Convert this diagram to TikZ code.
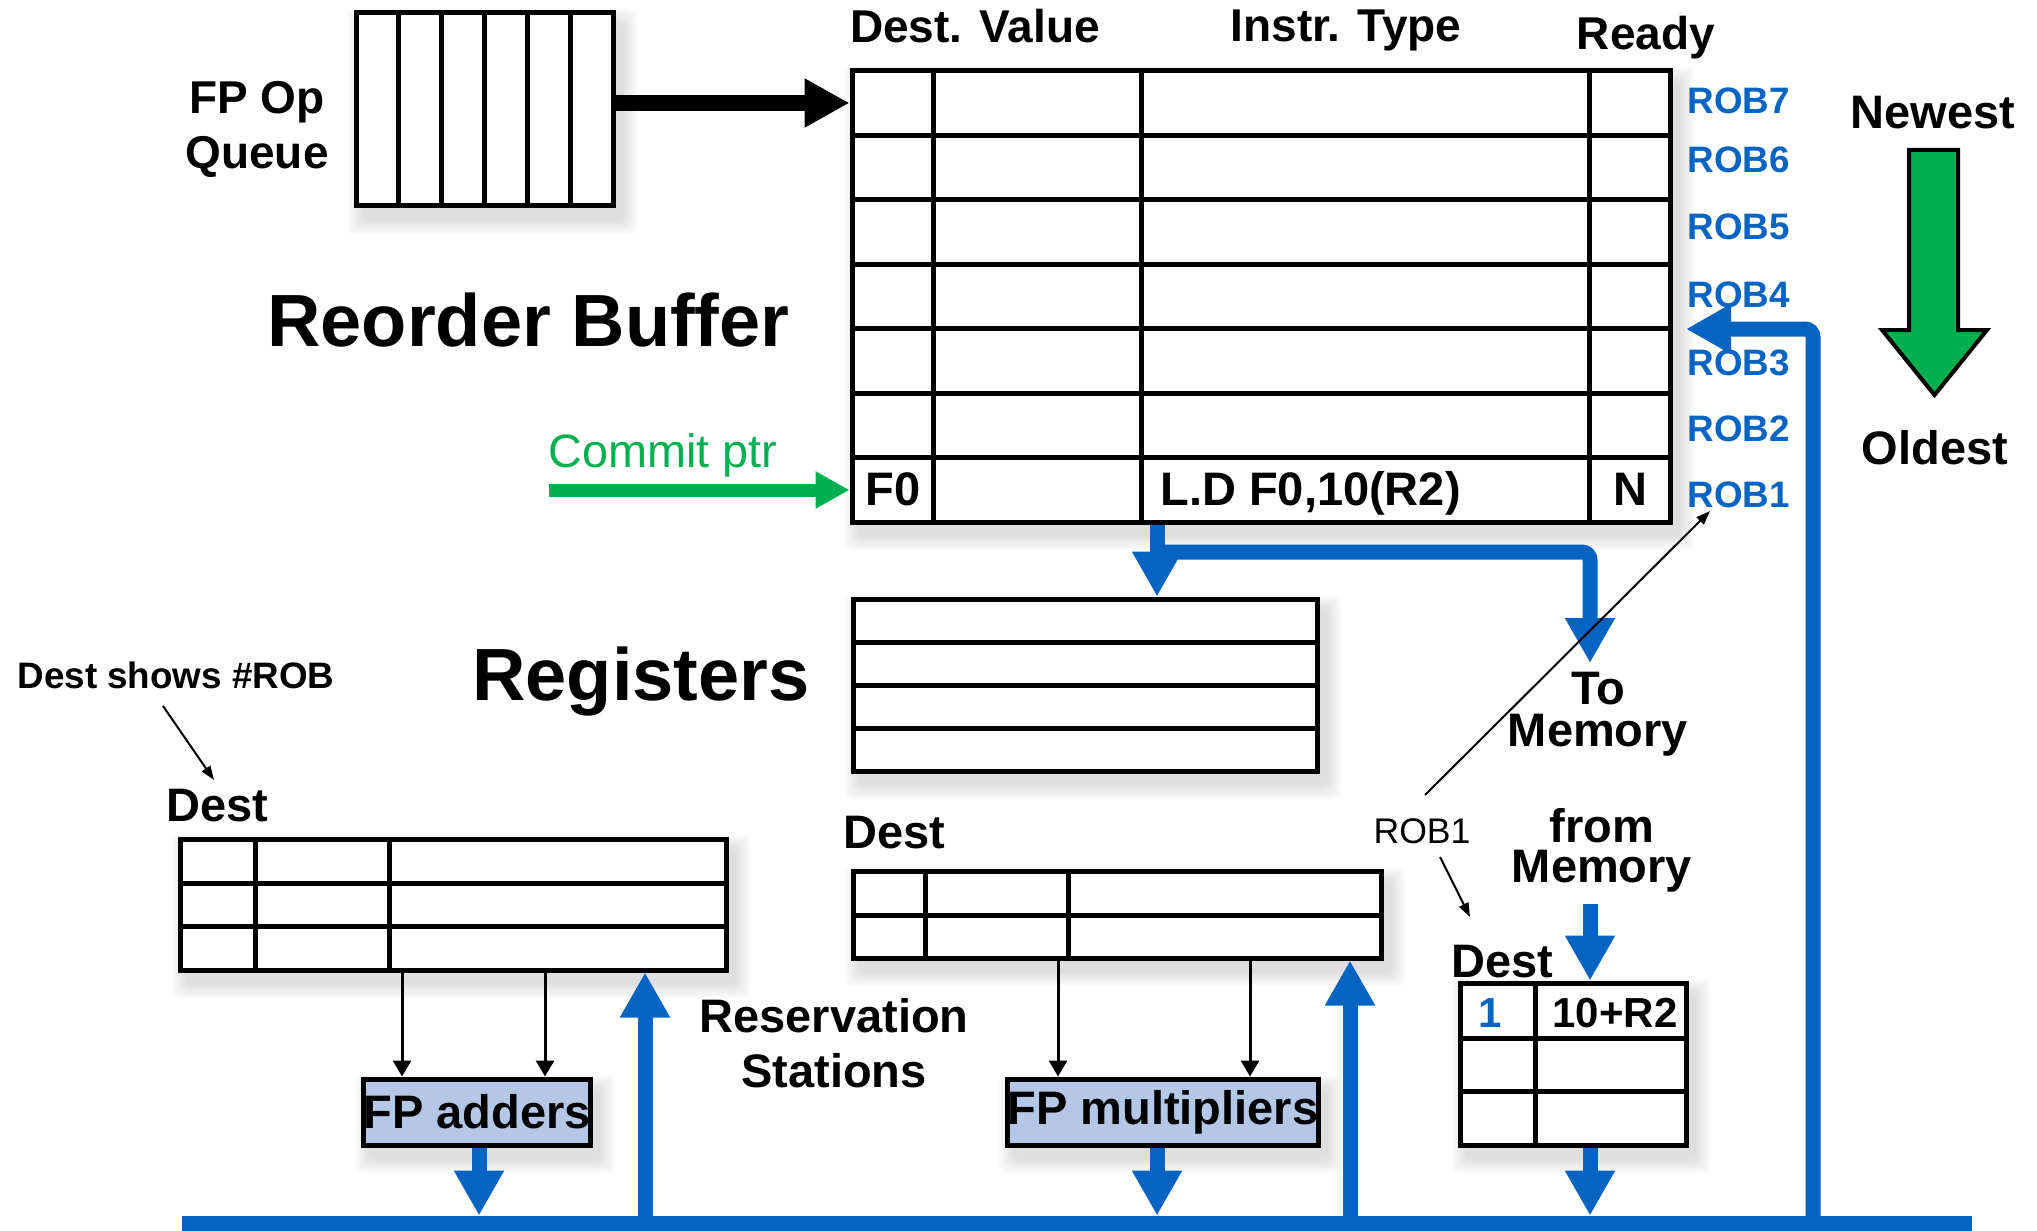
\documentclass[tikz,border=0pt]{standalone}
\usepackage{fontspec}
\setmainfont{Liberation Sans}
\usetikzlibrary{arrows.meta,calc}
\definecolor{myblue}{HTML}{0563C1}
\definecolor{mygreen}{HTML}{00B050}
\definecolor{fublue}{HTML}{B4C7E7}
\pgfdeclarelayer{bg}
\pgfsetlayers{bg,main}
\newcommand\softshadow[1]{%
  \begin{pgfonlayer}{bg}
  \foreach \k in {0,...,7}{%
    \fill[black, opacity=0.016, rounded corners=3pt]
      ($(#1.north west)+({8-2*\k},{12-2*\k})$) rectangle ($(#1.south east)+({8+2*\k},{12+2*\k})$);
  }
  \end{pgfonlayer}}
\tikzset{
  box/.style={draw, line width=2.5pt, fill=white, inner sep=0pt},
  fu/.style={draw, line width=2.5pt, fill=fublue, inner sep=0pt, font=\bfseries\fontsize{23.5}{24}\selectfont},
  grid/.style={line width=2.5pt},
  lbl/.style={font=\bfseries\fontsize{23}{24}\selectfont, inner sep=0pt, anchor=base},
  lblb/.style={font=\bfseries\fontsize{23.5}{24}\selectfont, inner sep=0pt, anchor=base},
  twoline/.style={inner sep=0pt, anchor=north, align=center},
  bigt/.style={font=\bfseries\fontsize{37}{38}\selectfont, inner sep=0pt, anchor=base},
  robl/.style={font=\bfseries\fontsize{18.4}{19}\selectfont, text=myblue, inner sep=0pt, anchor=base west},
  blueline/.style={draw=myblue, line width=7.5pt},
  bluetip/.style={-{Triangle[length=22.5pt,width=23.5pt]}},
  thinarr/.style={line width=1.5pt, -{Triangle[length=8pt,width=9pt]}},
  ann/.style={line width=1pt, -{Triangle[length=7pt,width=5pt]}},
}
\begin{document}
\begin{tikzpicture}[x=0.5pt,y=-0.5pt]
\begin{pgfonlayer}{bg}
\fill[white] (0,0) rectangle (2037,1230);
\end{pgfonlayer}
\useasboundingbox (0,0) rectangle (2037,1230);

% ---------- FP Op Queue ----------
\node[box, minimum width=128.5pt, minimum height=96.5pt] (queue) at (484.5,109.5) {};
\foreach \i in {1,...,5} \draw[grid] ({356+42.8*\i},13) -- ({356+42.8*\i},206);
\softshadow{queue}
\node[lbl] (fpop) at (257,114) {FP Op};
\node[lbl] (fpq) at (257,169) {Queue};

% ---------- Reorder buffer ----------
\node[box, minimum width=409pt, minimum height=225.5pt] (rob) at (1261,296.5) {};
\foreach \y in {135.4,199.9,264.3,328.7,393.1,457.6} \draw[grid] (852,\y) -- (1670,\y);
\foreach \x in {933,1141,1589} \draw[grid] (\x,71) -- (\x,522);
\softshadow{rob}
\coordinate (rob7) at (1261,103);
\coordinate (rob1) at (1261,490);
\node[lbl] (hdv) at (975,43) {Dest. Value};
\node[lbl] (hit) at (1346,42) {Instr. Type};
\node[lbl] (hrd) at (1646,50) {Ready};
\node[lblb] (cf0) at (893,505) {F0};
\node[lblb, anchor=base west] (cld) at (1160,505) {L.D F0,10(R2)};
\node[lblb] (cn) at (1630,505) {N};
\node[robl] (r7) at (1687,114) {ROB7};
\node[robl] (r6) at (1687,173) {ROB6};
\node[robl] (r5) at (1687,240) {ROB5};
\node[robl] (r4) at (1687,307) {ROB4};
\node[robl] (r3) at (1687,375) {ROB3};
\node[robl] (r2) at (1687,441) {ROB2};
\node[robl] (r1) at (1687,507) {ROB1};
\node[bigt] (robt) at (528.5,346) {Reorder Buffer};

% queue -> ROB
\draw[line width=8pt, -{Triangle[length=22.5pt,width=23pt]}] (queue.east |- rob7) -- (rob.west |- rob7);

% commit pointer
\coordinate (cstart) at (549,490);
\node[font=\fontsize{23.4}{24}\selectfont, text=mygreen, inner sep=0pt, anchor=base] (cptr) at (663,467) {Commit ptr};
\draw[draw=mygreen, line width=6.5pt, -{Triangle[length=17pt,width=17.5pt]}] (cstart) -- (rob.west |- rob1);

% Newest / Oldest
\node[lblb] (newest) at (1933,129) {Newest};
\node[lblb] (oldest) at (1935,464) {Oldest};
\draw[fill=mygreen, line width=2pt, line join=miter]
  (1909,150) -- (1958,150) -- (1958,330) -- (1987,330) -- (1934.5,395) -- (1882,330) -- (1909,330) -- cycle;

% ---------- Registers ----------
\node[box, minimum width=232pt, minimum height=86pt] (regs) at (1085,685) {};
\foreach \y in {642,685,728} \draw[grid] (853,\y) -- (1317,\y);
\softshadow{regs}
\node[bigt] (regt) at (641,700) {Registers};

% ROB -> registers / memory
\coordinate (xr) at (1157,0);
\coordinate (hb) at (0,552);
\coordinate (tomem) at (1590,663);
\draw[blueline, rounded corners=4pt, bluetip] (xr |- hb) -- (tomem |- hb) -- (tomem);
\draw[blueline, bluetip] (xr |- rob.south) -- (xr |- regs.north);
\node[twoline, font=\bfseries\fontsize{23.5}{21}\selectfont] (tomemt) at (1598,672) {To\\Memory};

% ---------- Reservation stations (adders) ----------
\node[box, minimum width=273pt, minimum height=65.5pt] (rsadd) at (453,904.5) {};
\foreach \x in {255,389} \draw[grid] (\x,839) -- (\x,970);
\foreach \y in {883,926} \draw[grid] (180,\y) -- (726,\y);
\softshadow{rsadd}
\node[lblb] (desta) at (217,821) {Dest};
\node[font=\bfseries\fontsize{18.4}{19}\selectfont, inner sep=0pt, anchor=base] (dshows) at (176,688) {Dest shows \#ROB};
\coordinate (dsa) at (163,706);
\coordinate (dsb) at (214,780);
\draw[ann] (dsa) -- (dsb);

% ---------- Reservation stations (multipliers) ----------
\node[box, minimum width=264pt, minimum height=43.5pt] (rsmul) at (1117,914.5) {};
\foreach \x in {925,1068} \draw[grid] (\x,871) -- (\x,958);
\draw[grid] (853,915) -- (1381,915);
\softshadow{rsmul}
\node[lblb] (destm) at (894,848) {Dest};
\node[twoline, font=\bfseries\fontsize{23.5}{27.5}\selectfont] (rest) at (834,998) {Reservation\\Stations};

% ---------- Functional units ----------
\node[fu, minimum width=113pt, minimum height=33pt] (fpadd) at (477,1112) {FP adders};
\softshadow{fpadd}
\node[fu, minimum width=153pt, minimum height=33pt] (fpmul) at (1163,1112) {FP multipliers};
\softshadow{fpmul}
\coordinate (xa1) at (402,0);
\coordinate (xa2) at (545,0);
\coordinate (xb1) at (1058,0);
\coordinate (xb2) at (1250,0);
\draw[thinarr] (xa1 |- rsadd.south) -- (xa1 |- fpadd.north);
\draw[thinarr] (xa2 |- rsadd.south) -- (xa2 |- fpadd.north);
\draw[thinarr] (xb1 |- rsmul.south) -- (xb1 |- fpmul.north);
\draw[thinarr] (xb2 |- rsmul.south) -- (xb2 |- fpmul.north);

% ---------- Load buffer ----------
\node[box, minimum width=113pt, minimum height=81pt] (lb) at (1573,1064) {};
\draw[grid] (1535,983) -- (1535,1145);
\foreach \y in {1038,1091} \draw[grid] (1460,\y) -- (1686,\y);
\softshadow{lb}
\node[font=\bfseries\fontsize{21}{22}\selectfont, text=myblue, inner sep=0pt, anchor=base] (lb1) at (1490,1027) {1};
\node[font=\bfseries\fontsize{21}{22}\selectfont, inner sep=0pt, anchor=base] (lbaddr) at (1615,1027) {10+R2};
\node[lblb] (destl) at (1502,977) {Dest};
\node[twoline, font=\bfseries\fontsize{23.5}{20}\selectfont] (frommemt) at (1602,808) {from\\Memory};
\node[font=\fontsize{17.8}{19}\selectfont, inner sep=0pt, anchor=base] (rob1lbl) at (1422,843) {ROB1};
\coordinate (dga) at (1425,795);
\coordinate (dgb) at (1710,511);
\draw[ann] (dga) -- (dgb);
\coordinate (rla) at (1440,857);
\coordinate (rlb) at (1470,917);
\draw[ann] (rla) -- (rlb);

% ---------- Common data bus ----------
\node[fill=myblue, inner sep=0pt, minimum width=895pt, minimum height=8pt] (bus) at (1077,1224) {};
\coordinate (xa) at (479,0);
\coordinate (xu1) at (645,0);
\coordinate (xm) at (1157,0);
\coordinate (xu2) at (1350,0);
\coordinate (xl) at (1590,0);
\coordinate (xrr) at (1813,0);
\coordinate (frommem) at (1590,904);
\coordinate (robin) at (1686,329);
\draw[blueline, bluetip] (xa |- fpadd.south) -- (xa |- bus.north);
\draw[blueline, bluetip] (xu1 |- bus.center) -- (xu1 |- rsadd.south);
\draw[blueline, bluetip] (xm |- fpmul.south) -- (xm |- bus.north);
\draw[blueline, bluetip] (xu2 |- bus.center) -- (xu2 |- rsmul.south);
\draw[blueline, bluetip] (frommem) -- (xl |- lb.north);
\draw[blueline, bluetip] (xl |- lb.south) -- (xl |- bus.north);
\draw[blueline, rounded corners=4pt, bluetip] (xrr |- bus.center) -- (xrr |- robin) -- (robin);
\end{tikzpicture}
\end{document}
